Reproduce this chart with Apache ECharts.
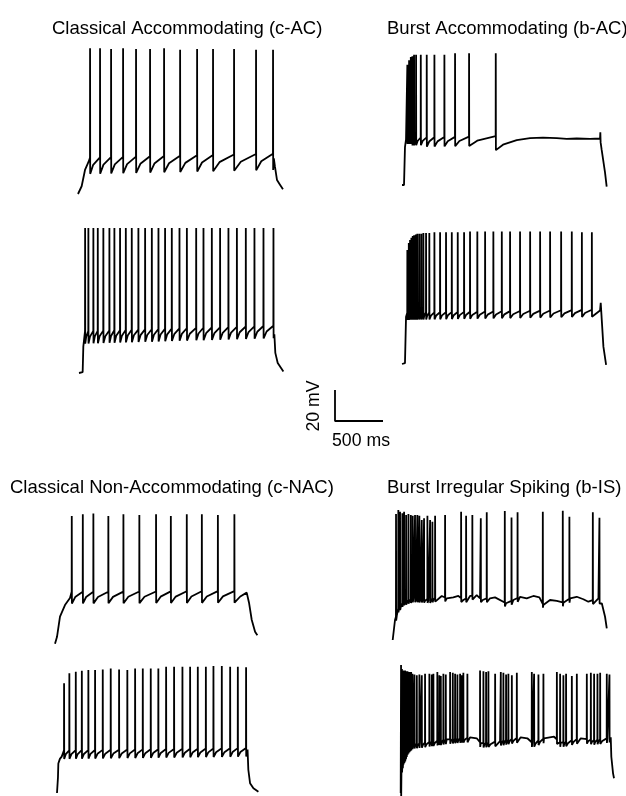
<!DOCTYPE html>
<html>
<head>
<meta charset="utf-8">
<script src="https://cdn.jsdelivr.net/npm/echarts@6/dist/echarts.min.js"></script>
<style>
  html, body { margin: 0; padding: 0; background: #fff; }
  #chart { width: 626px; height: 796px; }
</style>
</head>
<body>
<div id="chart"></div>
<script>
// ---- data (time in ms from trace start, voltage in mV) ----

// c-AC, top trace
const cacTopSpikes = [125, 229, 344, 469, 604, 750, 896, 1063, 1240, 1406, 1625, 1854, 2031];
const cacTopPeaks = [24, 24, 23.5, 24, 23.5, 23.5, 24, 23, 23.5, 23.5, 23.5, 23, 23];
const cacTopBase = [[0, -70], [15, -69], [38, -65], [73, -54.5], [97, -51], [118, -48], [125, -46.5],
  [2031, -44], [2040, -47], [2052, -52.5], [2073, -61], [2104, -64], [2135, -67]];
const cacTopAhp = 10.5;

// c-AC, bottom trace
const cacBotSpikes = [63, 97, 149, 195, 253, 316, 368, 427, 487, 549, 618, 688, 758, 827, 896, 966,
  1046, 1123, 1220, 1296, 1383, 1469, 1556, 1644, 1737, 1827, 1921, 2025];
const cacBotPeaks = [23.5];
const cacBotBase = [[0, -70], [38, -69.5], [45, -53], [63, -43], [2025, -39.5],
  [2035, -45], [2045, -57], [2070, -63.5], [2129, -69]];
const cacBotAhp = 8;

// b-AC, top trace
const bacTopSpikes = [55, 73, 91, 107, 125, 146, 195, 257, 337, 441, 552, 698, 976];
const bacTopPeaks = [7.5, 10.5, 12.5, 13, 14, 14, 14, 14, 14, 14, 15, 15, 15];
const bacTopBase = [[0, -70], [21, -70], [31, -45.5], [42, -40.5], [55, -39.5], [976, -38.5],
  [1052, -44], [1195, -41], [1334, -39.7], [1469, -39.5], [1612, -39.7], [1716, -40.3],
  [1820, -40], [1959, -40.3], [2063, -40], [2066, -36], [2069, -42.5], [2080, -47.4],
  [2115, -62], [2132, -71]];
const bacTopAhp = [4, 4, 4, 5, 5, 5, 5, 6, 6, 6, 6, 6, 9];

// b-AC, bottom trace
const bacBotSpikes = [55, 70, 83, 97, 111, 125, 143, 159, 180, 201, 222, 250, 284, 337, 396, 458, 518,
  580, 646, 708, 784, 865, 951, 1039, 1125, 1229, 1334, 1438, 1542, 1657, 1768, 1873, 1977];
const bacBotPeaks = [3.5, 8, 10, 11.5, 12.5, 13, 13.5, 14, 14, 14, 14.5, 14.5, 14.5, 15, 15, 15, 15,
  15, 15, 15.5, 15.5, 15.5, 15.5, 15.5, 15.5, 15.5, 15.5, 15.5, 15.5, 15.5, 15.5, 15, 15];
const bacBotBase = [[0, -70], [31, -69.5], [42, -39.5], [55, -37], [1977, -35],
  [2063, -35.5], [2070, -30.6], [2098, -58.8], [2126, -70.6]];
const bacBotAhp = 4.5;

// c-NAC, top trace
const cnacTopSpikes = [174, 289, 399, 555, 712, 878, 1052, 1206, 1372, 1529, 1696, 1868];
const cnacTopPeaks = [12, 13, 13.5, 12, 13, 12.5, 13, 12, 13, 13, 12.5, 13];
const cnacTopBase = [[0, -70.5], [21, -66], [52, -53], [104, -45.5], [156, -41], [174, -37],
  [1868, -36.5], [1930, -40], [1997, -37.5], [2021, -44], [2049, -55], [2084, -62.7], [2108, -65]];
const cnacTopAhp = 7.5;

// c-NAC, bottom trace
const cnacBotSpikes = [73, 128, 195, 258, 326, 396, 476, 559, 646, 732, 813, 893, 976, 1055, 1136,
  1219, 1306, 1386, 1466, 1550, 1629, 1716, 1803, 1883, 1969];
const cnacBotPeaks = [0.8, 7.2, 8.2, 8.9, 9.3, 9.3, 9.7, 10.4, 9.7, 9.3, 10.4, 10.4, 10.4, 10.4, 11.5,
  11.5, 11.5, 11.5, 11.5, 11.5, 11.9, 11.9, 11.5, 11.5, 11.1];
const cnacBotBase = [[0, -70], [5, -70], [10, -60], [14, -51], [30, -48], [49, -46.5], [73, -42.5],
  [1969, -41], [1985, -42], [1993, -55], [2011, -63.7], [2046, -67], [2098, -69.2]];
const cnacBotAhp = 5.5;

// b-IS, top trace
const bisTopSpikes = [34, 58, 76, 100, 118, 139, 163, 188, 208, 232, 256, 277, 302, 326, 361, 389, 413,
  441, 545, 712, 764, 829, 917, 979, 1167, 1237, 1300, 1563, 1771, 1840, 2084, 2153];
const bisTopPeaks = [11.3, 13.9, 12.8, 11.7, 12.8, 10.6, 11.3, 10.6, 10.2, 10.6, 10.6, 10.2, 7.4, 8.5,
  10.2, 7.4, 6.3, 10.2, 10.6, 12.8, 10.2, 10.6, 8.5, 12.4, 13.2, 9.1, 12.4, 12.8, 13.4, 9.5, 12.4, 8.9];
const bisTopBase = [[0, -70], [14, -70], [24, -57.1], [34, -55], [58, -49.6], [110, -45.3],
  [215, -43.1], [389, -43.6], [511, -41.6], [563, -43.1], [631, -42.5], [684, -41.6], [736, -44.2],
  [806, -41.6], [875, -41], [910, -43.1], [1014, -43.1], [1066, -42.5], [1181, -46.3], [1257, -44.2],
  [1326, -42.1], [1396, -43.1], [1465, -41.6], [1528, -42.5], [1569, -47.4], [1639, -44.2],
  [1709, -44.8], [1778, -45.9], [1848, -43.1], [1917, -42.1], [1986, -43.7], [2038, -45.3],
  [2143, -43.1], [2178, -46.3], [2195, -47.4], [2212, -55], [2230, -62.5]];
const bisTopAhp = 2.5;

// b-IS, bottom trace
const bisBotSpikes = [3, 12, 20, 28, 36, 45, 53, 61, 70, 79, 89, 98, 108,
  121, 142, 167, 194, 219, 253, 298, 323, 340, 381, 402, 417, 444, 469, 514, 542, 566, 590, 618, 636,
  652, 694, 826, 861, 889, 913, 983, 1042, 1069, 1097, 1121, 1157, 1209, 1365, 1389, 1434, 1486,
  1626, 1660, 1694, 1722, 1782, 1834, 1938, 1980, 2014, 2049, 2077, 2146, 2174];
const bisBotPeaks = [12.5, 10, 9, 9, 8.5, 9, 8.5, 8, 8.5, 8, 8, 7.5, 8,
  7, 6.5, 6, 6.5, 6, 7, 7, 6.5, 7, 8, 6, 5.5, 7, 6.5, 8, 7.5, 7, 6.5, 7, 6,
  7.5, 7, 9, 8.5, 8, 8.5, 7, 8, 7.5, 6.5, 7, 6, 7.5, 8, 7, 6.5, 7,
  8, 7, 6, 7, 5.5, 7, 7, 7.5, 7, 7, 7.5, 7, 6.5];
const bisBotBase = [[0, -70], [3, -70], [8, -55], [27, -48.7], [45, -46.6], [69, -42.3], [97, -40.1],
  [128, -38.4], [201, -37.9], [479, -35.4], [722, -34.1], [792, -34.7], [834, -37.9], [1035, -36.5],
  [1250, -34.1], [1319, -34.7], [1371, -37.6], [1493, -34.7], [1597, -33.7], [1667, -37.6],
  [1876, -34.7], [2014, -35.8], [2153, -34.7], [2188, -34.1], [2194, -46.6], [2212, -57.3], [2222, -60.5]];
const bisBotAhp = 3;

// scale bar
const scaleBar = [[0, 20], [0, 0], [500, 0]];

// ---- layout ----
const PX_MS = 48 / 500;   // 500 ms bar = 48 px
const PX_MV = 31 / 20;    // 20 mV bar = 31 px

const panels = [
  { x: 78, y: 194, base: cacTopBase, spikes: cacTopSpikes, peaks: cacTopPeaks, ahp: cacTopAhp },
  { x: 402, y: 185, base: bacTopBase, spikes: bacTopSpikes, peaks: bacTopPeaks, ahp: bacTopAhp },
  { x: 79, y: 373, base: cacBotBase, spikes: cacBotSpikes, peaks: cacBotPeaks, ahp: cacBotAhp },
  { x: 402, y: 364, base: bacBotBase, spikes: bacBotSpikes, peaks: bacBotPeaks, ahp: bacBotAhp },
  { x: 55, y: 643, base: cnacTopBase, spikes: cnacTopSpikes, peaks: cnacTopPeaks, ahp: cnacTopAhp },
  { x: 392.7, y: 640, base: bisTopBase, spikes: bisTopSpikes, peaks: bisTopPeaks, ahp: bisTopAhp },
  { x: 57, y: 793, base: cnacBotBase, spikes: cnacBotSpikes, peaks: cnacBotPeaks, ahp: cnacBotAhp },
  { x: 400.7, y: 793, base: bisBotBase, spikes: bisBotSpikes, peaks: bisBotPeaks, ahp: bisBotAhp }
];

function pick (v, i) {
  if (!Array.isArray(v)) return v;
  return v[Math.min(i, v.length - 1)];
}

// base voltage at time t (threshold line drawn through the read points)
function baseAt (base, t) {
  if (t <= base[0][0]) return base[0][1];
  for (let k = 1; k < base.length; k++) {
    if (t <= base[k][0]) {
      const a = base[k - 1], b = base[k];
      return a[1] + (b[1] - a[1]) * (t - a[0]) / (b[0] - a[0]);
    }
  }
  return base[base.length - 1][1];
}

// join the subthreshold points with the spikes (up, peak, AHP trough)
function buildTrace (p) {
  const pts = p.base.map(b => [b[0], b[1]]);
  p.spikes.forEach((t, i) => {
    const v = baseAt(p.base, t);
    const a = pick(p.ahp, i);
    pts.push([t - 0.3, v], [t + 0.7, pick(p.peaks, i)], [t + 2, v - a]);
    const next = p.spikes[i + 1];
    if (next !== undefined && !p.base.some(b => b[0] > t && b[0] < next)) {
      const tm = t + 2 + (next - t) * 0.3;
      pts.push([tm, baseAt(p.base, tm) - a * 0.45]);
    }
  });
  pts.sort((m, n) => m[0] - n[0]);
  return pts;
}

const grids = [], xAxes = [], yAxes = [], series = [];

// one grid per trace; kept inside the 626x796 canvas so ECharts does not squeeze it
function addGrid (x0, y0, rest, data, width) {
  const idx = grids.length;
  const below = Math.min(15, 795 - y0);
  grids.push({ left: x0, top: y0 - 160, width: 220, height: 160 + below });
  xAxes.push({ gridIndex: idx, type: 'value', show: false, min: 0, max: 220 / PX_MS });
  yAxes.push({ gridIndex: idx, type: 'value', show: false, min: rest - below / PX_MV, max: rest + 160 / PX_MV });
  series.push({
    type: 'line', xAxisIndex: idx, yAxisIndex: idx, data: data, symbol: 'none',
    clip: false, silent: true, animation: false,
    lineStyle: { color: '#000', width: width, join: 'bevel' }
  });
}

panels.forEach(p => addGrid(p.x, p.y, -70, buildTrace(p), 1.8));
addGrid(335, 421, 0, scaleBar, 1.8);

const font = '"Liberation Sans", Arial, Helvetica, sans-serif';
const titleStyle = { fontSize: 18.5, fontWeight: 'normal', color: '#000', fontFamily: font };

const chart = echarts.init(document.getElementById('chart'), null, { renderer: 'canvas' });
chart.setOption({
  backgroundColor: '#fff',
  animation: false,
  title: [
    { text: 'Classical Accommodating (c-AC)', left: 52, top: 19, padding: 0, textStyle: titleStyle },
    { text: 'Burst Accommodating (b-AC)', left: 387, top: 19, padding: 0, textStyle: titleStyle },
    { text: 'Classical Non-Accommodating (c-NAC)', left: 10, top: 478, padding: 0, textStyle: titleStyle },
    { text: 'Burst Irregular Spiking (b-IS)', left: 387, top: 478, padding: 0, textStyle: titleStyle }
  ],
  grid: grids,
  xAxis: xAxes,
  yAxis: yAxes,
  series: series,
  graphic: [
    {
      type: 'text', x: 314, y: 406, rotation: Math.PI / 2,
      style: { text: '20 mV', font: '17.7px ' + font, fill: '#000', align: 'center', verticalAlign: 'middle' }
    },
    {
      type: 'text', x: 361, y: 441,
      style: { text: '500 ms', font: '17.7px ' + font, fill: '#000', align: 'center', verticalAlign: 'middle' }
    }
  ]
});
window.addEventListener('resize', function () {
  chart.resize();
});
</script>
</body>
</html>
